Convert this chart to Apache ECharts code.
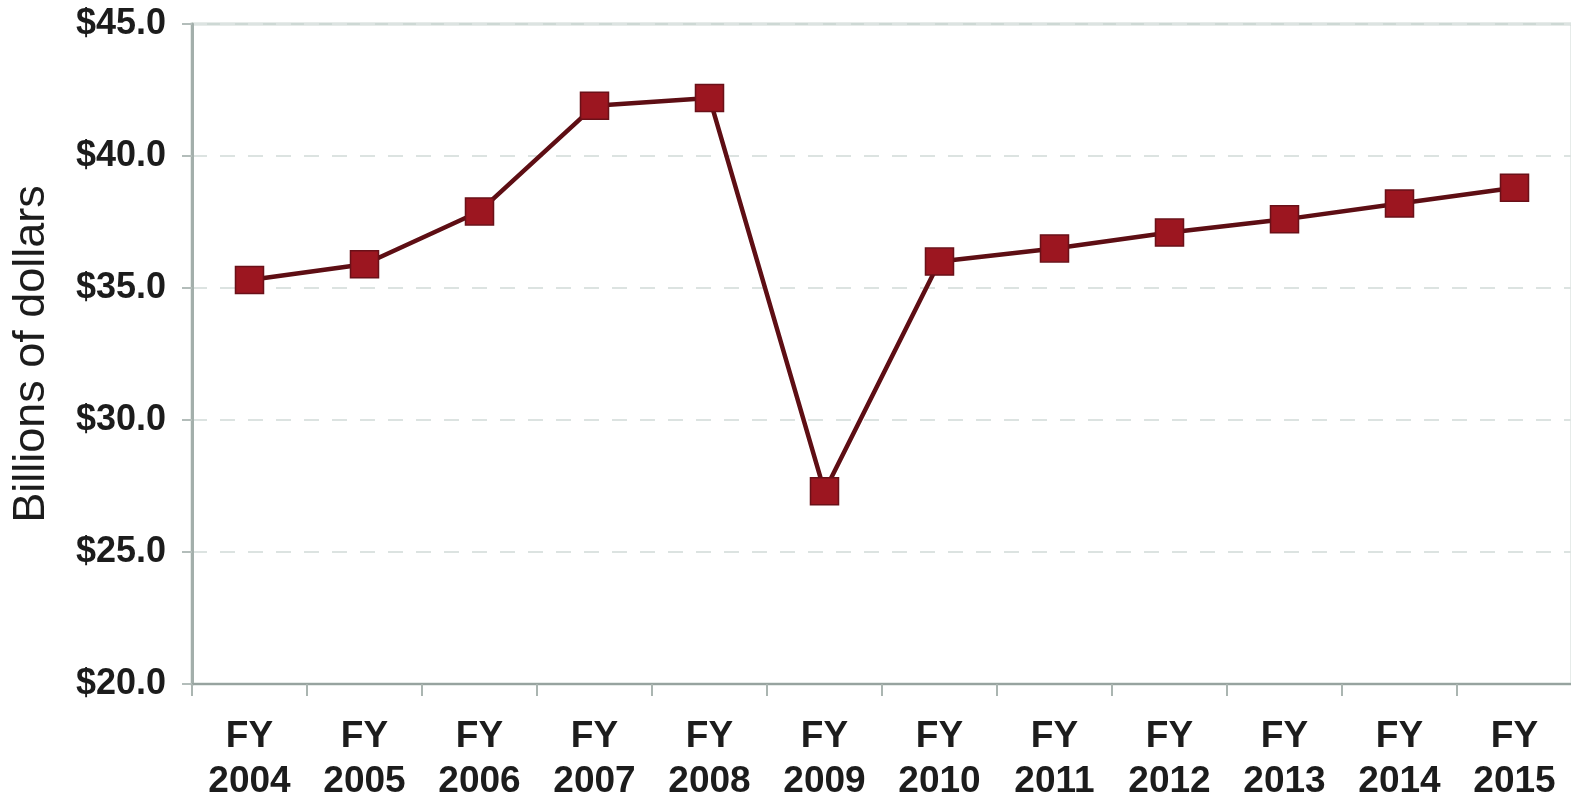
<!DOCTYPE html>
<html>
<head>
<meta charset="utf-8">
<script src="https://cdn.jsdelivr.net/npm/echarts@6/dist/echarts.min.js"></script>
<style>html,body{margin:0;padding:0;background:#fff}#c{width:1571px;height:801px}</style>
</head>
<body>
<div id="c"></div>
<script>
const categories = ['FY\n2004','FY\n2005','FY\n2006','FY\n2007','FY\n2008','FY\n2009','FY\n2010','FY\n2011','FY\n2012','FY\n2013','FY\n2014','FY\n2015'];
const values = [35.3, 35.9, 37.9, 41.9, 42.2, 27.3, 36.0, 36.5, 37.1, 37.6, 38.2, 38.8];
const yMin = 20, yMax = 45, yStep = 5;
const yAxisName = 'Billions of dollars';

const chart = echarts.init(document.getElementById('c'), null, {renderer: 'canvas'});
chart.setOption({
  animation: false,
  backgroundColor: '#ffffff',
  grid: {
    left: 192, top: 24, right: -1, bottom: 117,
    outerBoundsMode: 'none',
    containLabel: false,
    show: true, borderColor: '#cdd8d4', borderWidth: 3, backgroundColor: 'transparent'
  },
  xAxis: {
    type: 'category',
    data: categories,
    boundaryGap: true,
    axisLine: {lineStyle: {color: '#97a39f', width: 2}},
    axisTick: {show: true, alignWithLabel: false, length: 12, lineStyle: {color: '#aab5b1', width: 2}},
    axisLabel: {
      interval: 0, margin: 30,
      fontFamily: 'Liberation Sans', fontWeight: 'bold', fontSize: 37, lineHeight: 45,
      color: '#1c1c1c', align: 'center'
    },
    splitLine: {show: false}
  },
  yAxis: {
    type: 'value',
    min: yMin, max: yMax, interval: yStep,
    name: yAxisName,
    nameLocation: 'middle',
    nameGap: 138,
    nameTextStyle: {fontFamily: 'Liberation Sans', fontSize: 45, color: '#1c1c1c'},
    axisLine: {show: true, lineStyle: {color: '#a3afab', width: 3}},
    axisTick: {show: true, length: 10, lineStyle: {color: '#b3bdba', width: 2}},
    axisLabel: {
      margin: 26,
      fontFamily: 'Liberation Sans', fontWeight: 'bold', fontSize: 36, color: '#1c1c1c',
      formatter: v => '$' + v.toFixed(1)
    },
    splitLine: {show: true, lineStyle: {color: '#dce3e1', width: 2, type: [15, 13]}}
  },
  series: [{
    type: 'line',
    data: values,
    symbol: 'rect',
    symbolSize: [28, 27],
    lineStyle: {color: '#5e0e14', width: 4.5},
    itemStyle: {color: '#9c1620', borderColor: '#6a1018', borderWidth: 1.5},
    z: 5
  }]
});
</script>
</body>
</html>
